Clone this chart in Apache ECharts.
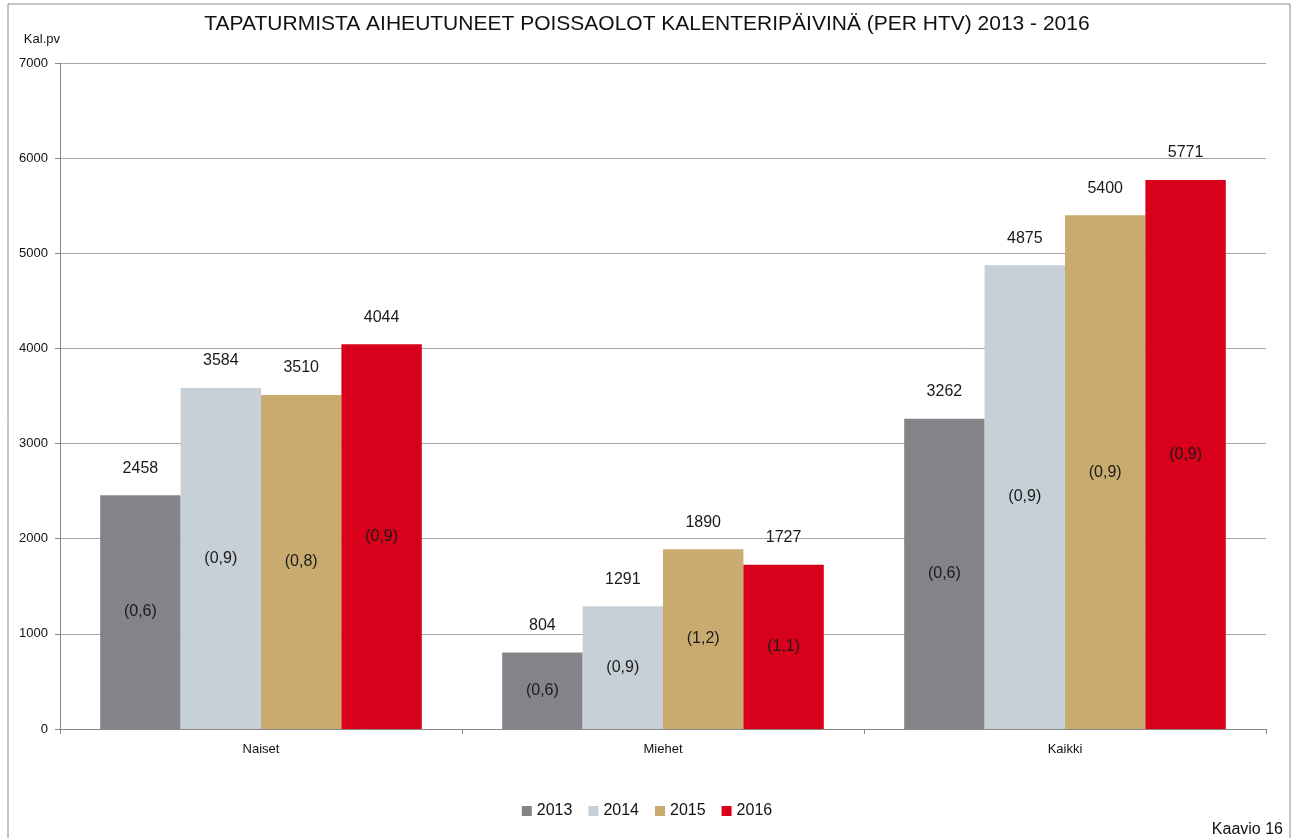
<!DOCTYPE html>
<html>
<head>
    <meta charset="UTF-8"/>
    <title>Kaavio 16</title>
    <style>
        html, body{
            margin: 0;
        }
    </style>
    <script src="https://cdn.jsdelivr.net/npm/echarts@6/dist/echarts.min.js"></script>
</head>
<body>
<div id="container" style="width: 1294px;height: 838px;"></div>

<script>
  var categories = ['Naiset', 'Miehet', 'Kaikki'];
  var years = ['2013', '2014', '2015', '2016'];
  var colors = ['#838488', '#c6d0d6', '#c9ab70', '#d9001b'];
  // kalenteripäivät per vuosi
  var v2013 = [2458, 804, 3262];
  var v2014 = [3584, 1291, 4875];
  var v2015 = [3510, 1890, 5400];
  var v2016 = [4044, 1727, 5771];
  // suluissa olevat luvut
  var r2013 = ['(0,6)', '(0,6)', '(0,6)'];
  var r2014 = ['(0,9)', '(0,9)', '(0,9)'];
  var r2015 = ['(0,8)', '(1,2)', '(0,9)'];
  var r2016 = ['(0,9)', '(1,1)', '(0,9)'];

  var values = [v2013, v2014, v2015, v2016];
  var ratios = [r2013, r2014, r2015, r2016];
  var font = '"Liberation Sans Narrow", "Liberation Sans", sans-serif';

  var dom = document.getElementById("container");
  var myChart = echarts.init(dom);

  var series = [];
  // varsinaiset palkit, arvo yläpuolella
  years.forEach(function (y, i) {
      series.push({
          name: y,
          type: 'bar',
          xAxisIndex: 0,
          barGap: 0,
          barCategoryGap: '20%',
          itemStyle: {color: colors[i]},
          label: {
              show: true,
              position: 'top',
              distance: 19,
              color: '#1a1a1a',
              fontSize: 16,
              fontFamily: font
          },
          data: values[i]
      });
  });
  // läpinäkyvät kopiot suhdeluvuille
  years.forEach(function (y, i) {
      series.push({
          type: 'bar',
          xAxisIndex: 1,
          barGap: 0,
          barCategoryGap: '20%',
          silent: true,
          itemStyle: {color: 'rgba(0,0,0,0)'},
          label: {
              show: true,
              position: 'inside',
              color: '#1a1a1a',
              fontSize: 16,
              fontFamily: font,
              formatter: function (p) { return ratios[i][p.dataIndex]; }
          },
          data: values[i]
      });
  });

  var option = {
      animation: false,
      backgroundColor: '#fff',
      title: {
          text: 'TAPATURMISTA AIHEUTUNEET POISSAOLOT KALENTERIPÄIVINÄ (PER HTV) 2013 - 2016',
          left: 'center',
          top: 9,
          textStyle: {
              fontSize: 21,
              fontWeight: 'normal',
              color: '#111',
              fontFamily: font
          }
      },
      legend: {
          data: years,
          bottom: 14,
          left: 'center',
          itemWidth: 10,
          itemHeight: 10,
          itemGap: 16,
          icon: 'rect',
          textStyle: {fontSize: 16, color: '#111', fontFamily: font}
      },
      grid: {left: 60, right: 28, top: 63, bottom: 109},
      xAxis: [{
          type: 'category',
          data: categories,
          axisLine: {lineStyle: {color: '#888'}},
          axisTick: {show: true, length: 5, lineStyle: {color: '#888'}},
          axisLabel: {color: '#111', fontSize: 13, margin: 14, fontFamily: font}
      }, {
          type: 'category',
          data: categories,
          show: false
      }],
      yAxis: {
          type: 'value',
          min: 0,
          max: 7000,
          interval: 1000,
          name: 'Kal.pv',
          nameGap: 17,
          nameTextStyle: {color: '#111', fontSize: 13, align: 'right', fontFamily: font},
          axisLine: {show: true, lineStyle: {color: '#888'}},
          axisTick: {show: true, length: 5, lineStyle: {color: '#888'}},
          axisLabel: {
              color: '#111',
              fontSize: 13,
              margin: 12,
              fontFamily: font,
              formatter: function (v) { return String(v); }
          },
          splitLine: {lineStyle: {color: '#a6a6a6'}}
      },
      graphic: [{
          type: 'rect',
          shape: {x: 8, y: 4, width: 1282, height: 850},
          style: {fill: 'none', stroke: '#8c8c8c', lineWidth: 1}
      }, {
          type: 'text',
          right: 11,
          bottom: 0,
          style: {text: 'Kaavio 16', fontSize: 16, fill: '#111', font: '16px ' + font}
      }],
      series: series
  };
  myChart.setOption(option);
</script>

</body>
</html>
